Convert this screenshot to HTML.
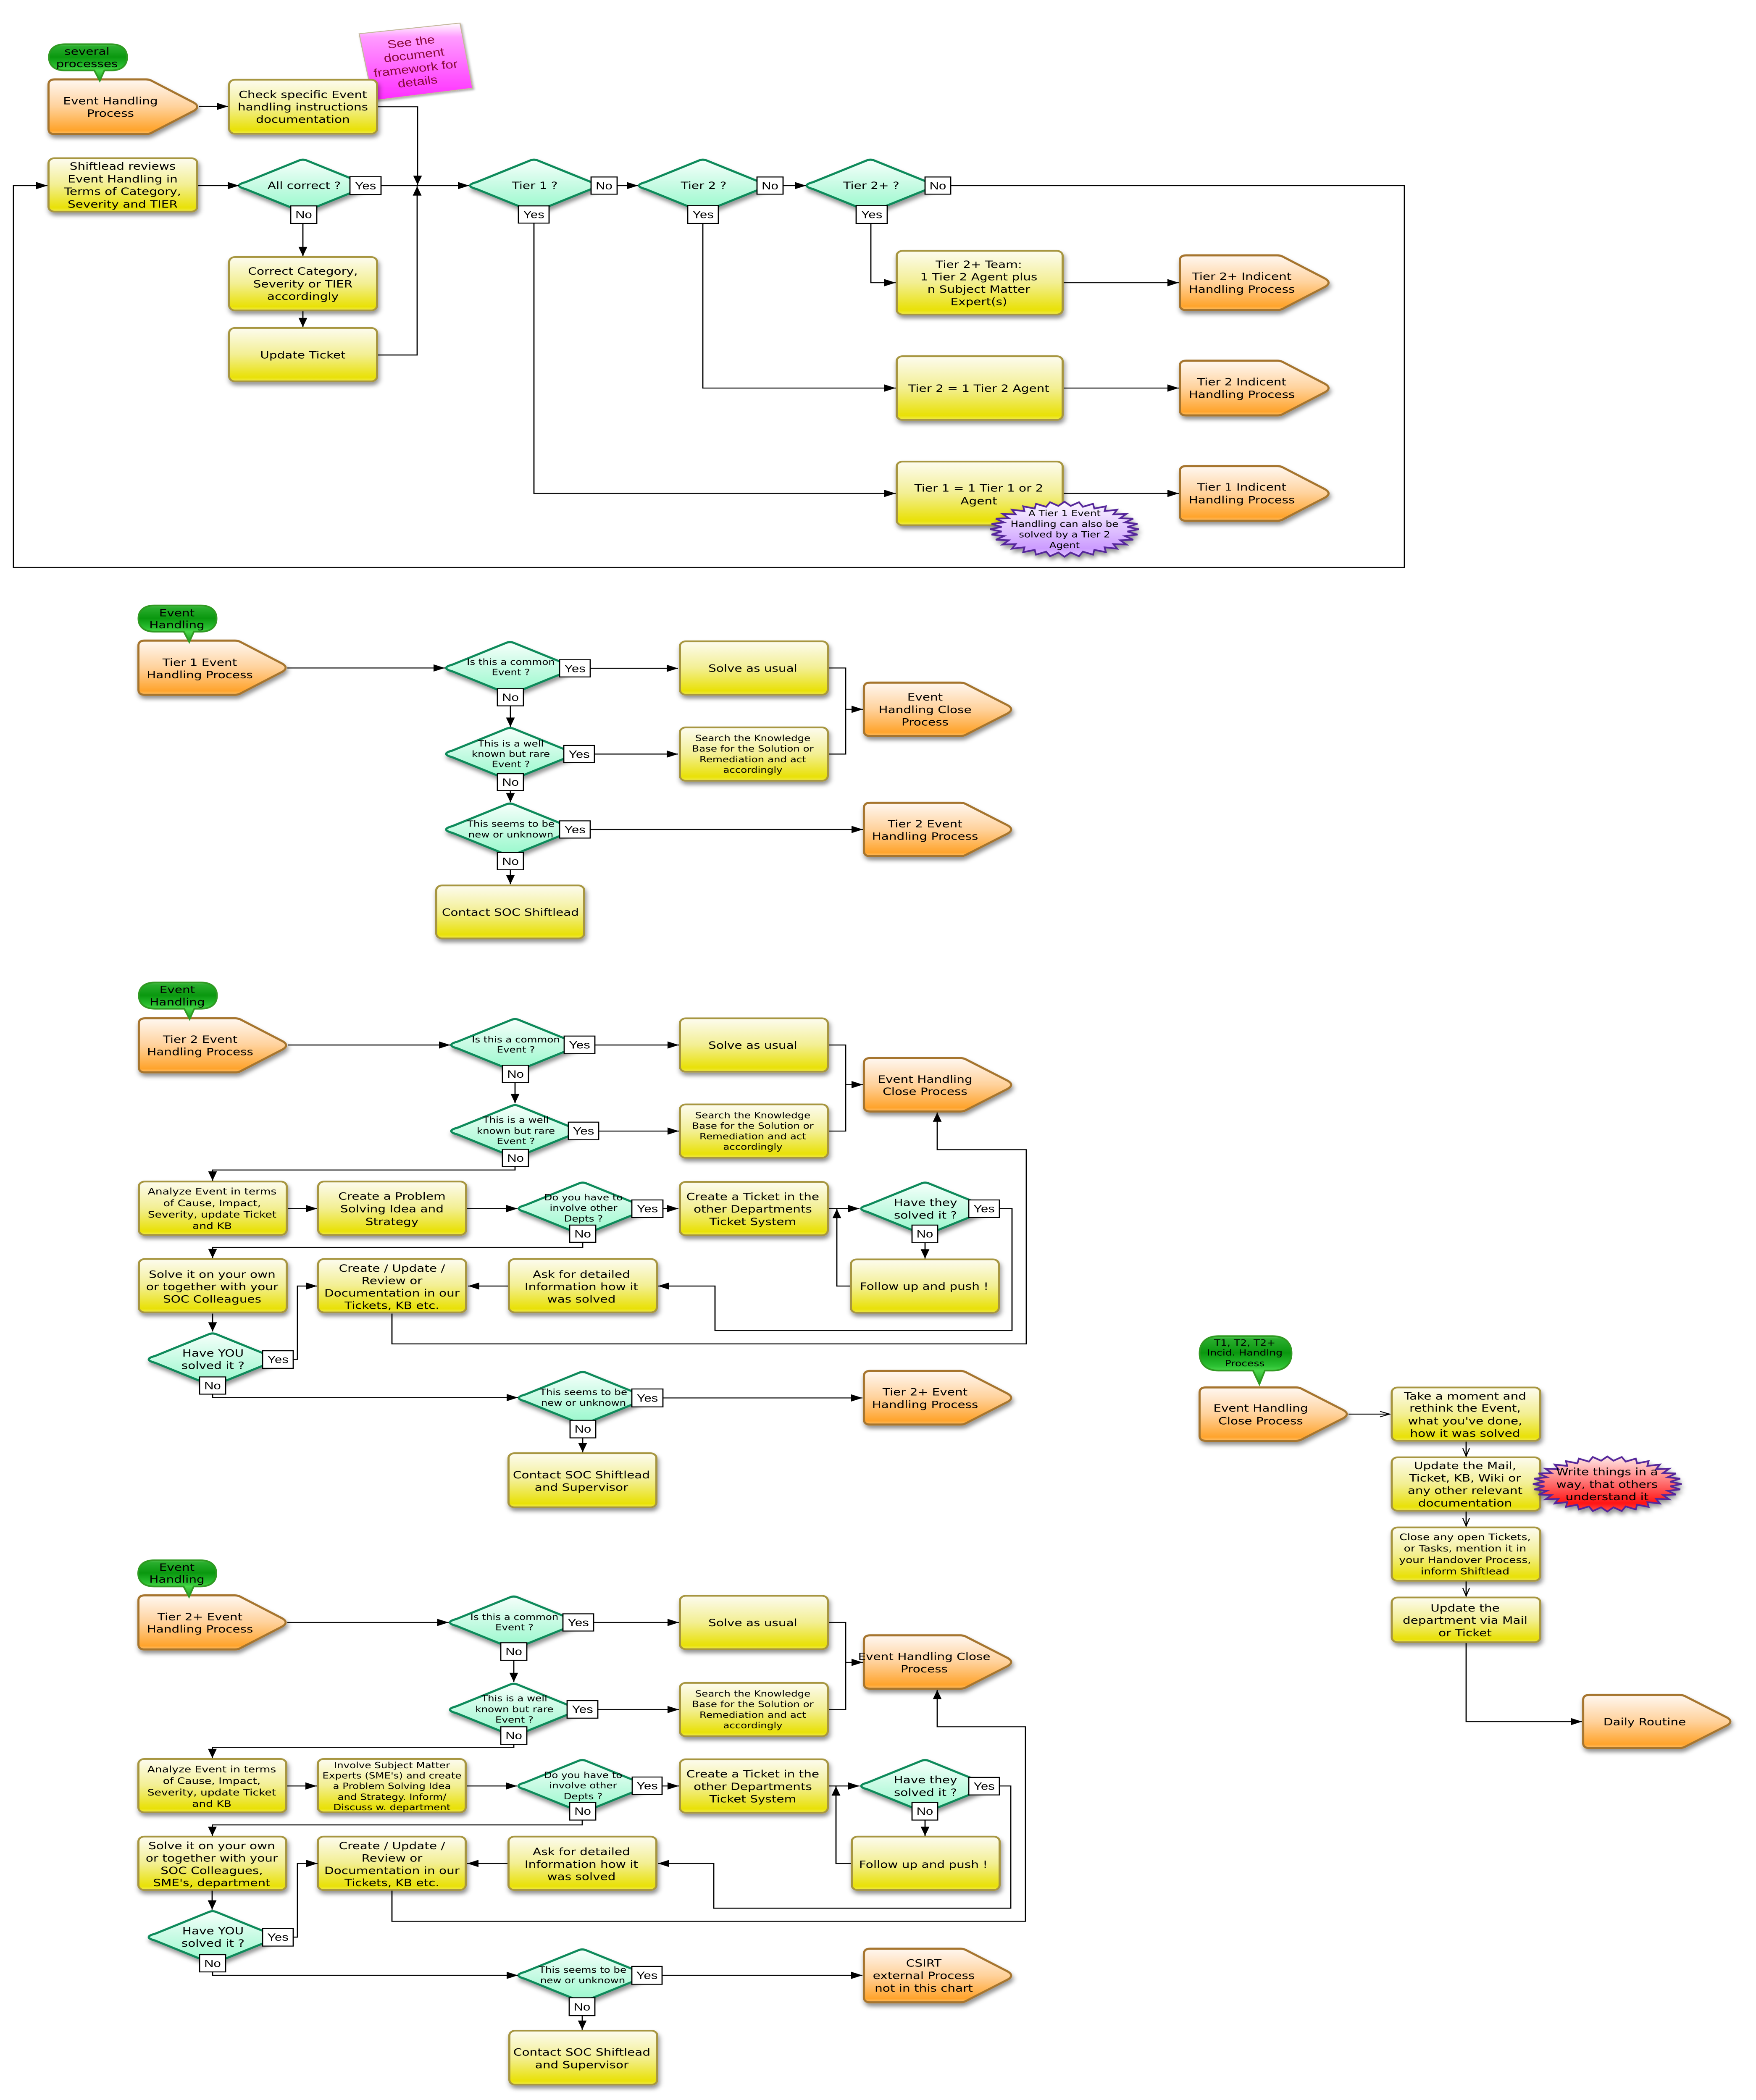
<!DOCTYPE html>
<html><head><meta charset="utf-8"><title>Event Handling Process</title>
<style>
html,body{margin:0;padding:0;background:#fff;height:100%;overflow:hidden}
svg{display:block;width:100vw;height:100vh}
text{font-family:"DejaVu Sans",sans-serif;font-size:29.5px;text-anchor:middle;fill:#000}
.s{font-size:24.5px}
.m{font-size:26.5px}
.n{font-size:25px}
.l{font-family:"Liberation Sans",sans-serif;font-size:31px}
.k{font-family:"Liberation Sans",sans-serif;font-size:33px;fill:#8a0a3a}
.y{fill:url(#gy);stroke:#a79640;stroke-width:5;rx:14px}
.o{fill:url(#go);stroke:#a6752f;stroke-width:5}
.d{fill:url(#gm);stroke:#0b8a5a;stroke-width:5}
.b{fill:url(#gb);stroke:#2f9a22;stroke-width:4}
.lb rect{fill:#fff;stroke:#000;stroke-width:2.8}
.c path{fill:none;stroke:#000;stroke-width:2.8;marker-end:url(#a)}
.c path.x{marker-end:none}
.c path.v{marker-end:url(#v)}
</style></head><body>
<svg xmlns="http://www.w3.org/2000/svg" viewBox="0 0 4180 6099" preserveAspectRatio="none">
<defs>
<linearGradient id="gy" x1="0" y1="0" x2="0" y2="1"><stop offset="0" stop-color="#fdfcf0"/><stop offset=".5" stop-color="#f3ef93"/><stop offset=".93" stop-color="#e9e106"/><stop offset="1" stop-color="#f1ec50"/></linearGradient>
<linearGradient id="go" x1="0" y1="0" x2="0" y2="1"><stop offset="0" stop-color="#fff8f2"/><stop offset=".5" stop-color="#ffd29c"/><stop offset=".93" stop-color="#ffa42c"/><stop offset="1" stop-color="#ffc068"/></linearGradient>
<linearGradient id="gm" x1="0" y1="0" x2="0" y2="1"><stop offset="0" stop-color="#f6fffb"/><stop offset=".5" stop-color="#c6fbe3"/><stop offset=".93" stop-color="#9ef9cf"/><stop offset="1" stop-color="#b8fbdd"/></linearGradient>
<linearGradient id="gb" x1="0" y1="0" x2="0" y2="1"><stop offset="0" stop-color="#59c95a"/><stop offset=".06" stop-color="#2aae2e"/><stop offset=".35" stop-color="#0a980f"/><stop offset=".62" stop-color="#2bc032"/><stop offset=".72" stop-color="#4bd84b"/><stop offset="1" stop-color="#1c9c22"/></linearGradient>
<linearGradient id="gp" x1="0" y1="0" x2="0" y2="1"><stop offset="0" stop-color="#fcf9ff"/><stop offset=".85" stop-color="#cc9cff"/><stop offset="1" stop-color="#e0c4ff"/></linearGradient>
<linearGradient id="gr" x1="0" y1="0" x2="0" y2="1"><stop offset="0" stop-color="#ffeaea"/><stop offset=".85" stop-color="#ff1212"/><stop offset="1" stop-color="#ff5050"/></linearGradient>
<linearGradient id="gk" x1="0" y1="0" x2="0" y2="1"><stop offset="0" stop-color="#fff"/><stop offset=".18" stop-color="#ff9cff"/><stop offset="1" stop-color="#ff2cff"/></linearGradient>
<filter id="sh" filterUnits="userSpaceOnUse" x="0" y="0" width="4180" height="6099"><feDropShadow dx="3" dy="9" stdDeviation="6" flood-color="#000" flood-opacity=".42"/></filter>
<filter id="sk" filterUnits="userSpaceOnUse" x="800" y="40" width="380" height="290"><feDropShadow dx="3" dy="4" stdDeviation="3" flood-color="#000" flood-opacity=".3"/></filter>
<marker id="a" markerUnits="userSpaceOnUse" markerWidth="28" markerHeight="22" refX="27" refY="10.5" orient="auto"><path d="M0 0L27 10.5L0 21Z" fill="#000"/></marker>
<marker id="v" markerUnits="userSpaceOnUse" markerWidth="28" markerHeight="22" refX="26" refY="10" orient="auto"><path d="M2 2L25 10L2 18" fill="none" stroke="#000" stroke-width="2.5"/></marker>
<path id="pent" vector-effect="non-scaling-stroke" d="M15 0H232Q240 0 247 5L345 67Q363 79.5 345 92L247 154Q240 159 232 159H15Q0 159 0 144V15Q0 0 15 0Z"/>
<path id="dia" vector-effect="non-scaling-stroke" d="M.06-.96L.9-.13Q1.1 0 .9 .13L.06 .96Q0 1.02-.06 .96L-.9 .13Q-1.1 0-.9-.13L-.06-.96Q0-1.02 .06-.96Z"/>
<path id="bub" vector-effect="non-scaling-stroke" d="M38 0H148C174 0 186 16 186 38C186 60 174 76 148 76H132L121 106L108 76H38C12 76 0 60 0 38C0 16 12 0 38 0Z"/>
<polygon id="star" vector-effect="non-scaling-stroke" points="1,0 .846,.083 .981,.195 .813,.247 .924,.383 .750,.401 .832,.556 .657,.539 .707,.707 .539,.657 .556,.832 .401,.750 .383,.924 .247,.813 .195,.981 .083,.846 0,1 -.083,.846 -.195,.981 -.247,.813 -.383,.924 -.401,.750 -.556,.832 -.539,.657 -.707,.707 -.657,.539 -.832,.556 -.750,.401 -.924,.383 -.813,.247 -.981,.195 -.846,.083 -1,0 -.846,-.083 -.981,-.195 -.813,-.247 -.924,-.383 -.750,-.401 -.832,-.556 -.657,-.539 -.707,-.707 -.539,-.657 -.556,-.832 -.401,-.750 -.383,-.924 -.247,-.813 -.195,-.981 -.083,-.846 0,-1 .083,-.846 .195,-.981 .247,-.813 .383,-.924 .401,-.750 .556,-.832 .539,-.657 .707,-.707 .657,-.539 .832,-.556 .750,-.401 .924,-.383 .813,-.247 .981,-.195 .846,-.083"/>
</defs>
<rect width="4180" height="6099" fill="#fff"/>

<polygon points="855,98 1095,67 1125,256 888,292" fill="url(#gk)" stroke="#c4b79c" stroke-width="2.5" filter="url(#sk)"/>
<text class="k" transform="translate(980 133) rotate(-8)">See the</text>
<text class="k" transform="translate(987 171) rotate(-8)">document</text>
<text class="k" transform="translate(991 210) rotate(-8)">framework for</text>
<text class="k" transform="translate(995.5 248) rotate(-8)">details</text>

<g filter="url(#sh)">
<!-- S1 -->
<use href="#pent" class="o" transform="translate(115.5 230.5)"/>
<rect class="y" x="545.5" y="231.5" width="352" height="157"/>
<rect class="y" x="115.5" y="459.5" width="354" height="155"/>
<rect class="y" x="545.5" y="746.5" width="352" height="155"/>
<rect class="y" x="545.5" y="952.5" width="352" height="155"/>
<rect class="y" x="2134.5" y="728.5" width="395" height="185"/>
<rect class="y" x="2134.5" y="1034.5" width="395" height="185"/>
<rect class="y" x="2134.5" y="1340.5" width="395" height="185"/>
<use href="#pent" class="o" transform="translate(2808.5 741.5)"/>
<use href="#pent" class="o" transform="translate(2808.5 1047.5)"/>
<use href="#pent" class="o" transform="translate(2808.5 1353.5)"/>
<use href="#dia" class="d" transform="translate(721 539) scale(152 76)"/>
<use href="#dia" class="d" transform="translate(1271 539) scale(152 76)"/>
<use href="#dia" class="d" transform="translate(1673 539) scale(152 76)"/>
<use href="#dia" class="d" transform="translate(2072 539) scale(152 76)"/>
<!-- S2 -->
<use href="#pent" class="o" transform="translate(329.5 1860.5) scale(.99 .99)"/>
<use href="#dia" class="d" transform="translate(1214 1940) scale(152 76)"/>
<use href="#dia" class="d" transform="translate(1214 2189.5) scale(152 76)"/>
<use href="#dia" class="d" transform="translate(1214 2409) scale(152 76)"/>
<rect class="y" x="1618.5" y="1862.5" width="352" height="155"/>
<rect class="y" x="1618.5" y="2112.5" width="352" height="155"/>
<rect class="y" x="1038.5" y="2571.5" width="352" height="154"/>
<use href="#pent" class="o" transform="translate(2056.5 1982.5) scale(.99 .975)"/>
<use href="#pent" class="o" transform="translate(2056.5 2331.5) scale(.99 .975)"/>
<!-- S3 -->
<use href="#pent" class="o" transform="translate(330.5 2957.5) scale(.99 .987)"/>
<use href="#dia" class="d" transform="translate(1226 3035) scale(152 76)"/>
<use href="#dia" class="d" transform="translate(1226 3285) scale(152 76)"/>
<rect class="y" x="1618.5" y="2957.5" width="352" height="155"/>
<rect class="y" x="1618.5" y="3207.5" width="352" height="155"/>
<use href="#pent" class="o" transform="translate(2056.5 3073) scale(.99 .975)"/>
<rect class="y" x="330.5" y="3431.5" width="352" height="155"/>
<rect class="y" x="757.5" y="3431.5" width="352" height="155"/>
<use href="#dia" class="d" transform="translate(1387 3510) scale(152 76)"/>
<rect class="y" x="1618.5" y="3432.5" width="352" height="155"/>
<use href="#dia" class="d" transform="translate(2202 3510) scale(152 76)"/>
<rect class="y" x="330.5" y="3656.5" width="352" height="155"/>
<rect class="y" x="757.5" y="3656.5" width="352" height="155"/>
<rect class="y" x="1211.5" y="3656.5" width="352" height="155"/>
<rect class="y" x="2025.5" y="3657.5" width="352" height="155"/>
<use href="#dia" class="d" transform="translate(506 3948) scale(152 76)"/>
<use href="#dia" class="d" transform="translate(1387 4060) scale(152 76)"/>
<use href="#pent" class="o" transform="translate(2056.5 3981.5) scale(.99 .98)"/>
<rect class="y" x="1210.5" y="4220.5" width="352" height="157"/>
<!-- S4 -->
<use href="#pent" class="o" transform="translate(329.5 4633.5) scale(.99 .987)"/>
<use href="#dia" class="d" transform="translate(1223 4712) scale(152 76)"/>
<use href="#dia" class="d" transform="translate(1223 4965.5) scale(152 76)"/>
<rect class="y" x="1618.5" y="4634.5" width="352" height="155"/>
<rect class="y" x="1618.5" y="4887.5" width="352" height="155"/>
<use href="#pent" class="o" transform="translate(2056.5 4749.5) scale(.99 .975)"/>
<rect class="y" x="329.5" y="5108.5" width="352" height="155"/>
<rect class="y" x="756.5" y="5108.5" width="352" height="155"/>
<use href="#dia" class="d" transform="translate(1386 5187) scale(152 76)"/>
<rect class="y" x="1618.5" y="5109.5" width="352" height="155"/>
<use href="#dia" class="d" transform="translate(2202 5187) scale(152 76)"/>
<rect class="y" x="329.5" y="5334" width="352" height="155"/>
<rect class="y" x="756.5" y="5334" width="352" height="155"/>
<rect class="y" x="1210.5" y="5334" width="352" height="155"/>
<rect class="y" x="2027.5" y="5334" width="352" height="155"/>
<use href="#dia" class="d" transform="translate(506 5626) scale(152 76)"/>
<use href="#dia" class="d" transform="translate(1386 5737) scale(152 76)"/>
<use href="#pent" class="o" transform="translate(2056.5 5659.5) scale(.99 .98)"/>
<rect class="y" x="1212.5" y="5897.5" width="352" height="157"/>
<!-- Right -->
<use href="#pent" class="o" transform="translate(2855.5 4029.5) scale(.99 .975)"/>
<rect class="y" x="3313" y="4029.5" width="353.5" height="155"/>
<rect class="y" x="3313" y="4232.5" width="353.5" height="155"/>
<rect class="y" x="3313" y="4436" width="353.5" height="155"/>
<rect class="y" x="3313" y="4639.5" width="353.5" height="130"/>
<use href="#pent" class="o" transform="translate(3768.5 4922.5) scale(.99 .97)"/>
</g>

<g class="c">
<!-- S1 -->
<path d="M473 309H543"/><path d="M900 310H994V537"/><path d="M900 1031H993V541"/><path d="M907 539H1117"/><path d="M472 539H569"/>
<path d="M721 649V744"/><path d="M721 904V950"/><path d="M1271 648V1433H2132"/><path d="M1469 539H1519"/><path d="M1673 649V1127H2132"/>
<path d="M1864 539H1919"/><path d="M2073 649V821H2132"/><path d="M2263 539H3343V1648H32V539H113"/><path d="M2532 821H2806"/><path d="M2532 1127H2806"/><path d="M2532 1433H2806"/>
<!-- S2 -->
<path d="M684 1940H1059"/><path d="M1405 1941H1614"/><path d="M1215 2050V2111"/><path d="M1415 2190H1614"/><path d="M1215 2296V2330"/><path d="M1405 2409H2054"/><path d="M1215 2526V2568"/>
<path class="x" d="M1973 1940H2013V2190H1973"/><path d="M2013 2060H2054"/>
<!-- S3 -->
<path d="M685 3035H1072"/><path d="M1416 3035H1616"/><path d="M1226 3144V3204"/><path d="M1425 3285H1616"/><path d="M1226 3388V3398H506V3429"/>
<path class="x" d="M1973 3035H2013V3285H1973"/><path d="M2013 3150H2054"/><path d="M685 3510H755"/><path d="M1112 3510H1232"/><path d="M1578 3510H1615"/><path d="M1973 3510H2046"/>
<path d="M2202 3609V3655"/><path d="M2023 3735H1992V3511"/><path d="M2379 3510H2409V3864H1702V3735H1566"/><path d="M933 3815V3903H2443V3339H2231V3231"/><path d="M1387 3608V3623H506V3654"/>
<path d="M1209 3735H1114"/><path d="M506 3815V3867"/><path d="M698 3948H708V3735H755"/><path d="M506 4049V4059H1233"/><path d="M1578 4060H2053"/><path d="M1387 4176V4218"/>
<!-- S4 -->
<path d="M684 4712H1068"/><path d="M1413 4712H1616"/><path d="M1223 4822V4885"/><path d="M1423 4965H1616"/><path d="M1223 5066V5075H505.5V5106"/>
<path class="x" d="M1973 4712H2013V4965H1973"/><path d="M2013 4828H2054"/><path d="M684 5187H754"/><path d="M1112 5187H1231"/><path d="M1576 5187H1616"/><path d="M1973 5187H2046"/>
<path d="M2202 5286V5332"/><path d="M2025 5412H1990V5188"/><path d="M2379 5187H2406V5542H1699V5412H1566"/><path d="M933 5491V5580H2441V5015H2231V4908"/><path d="M1386 5286V5300H505.5V5332"/>
<path d="M1208 5412H1112"/><path d="M505 5491V5546"/><path d="M698 5626H708V5412H756"/><path d="M506 5727V5737H1233"/><path d="M1576 5737H2053"/><path d="M1386 5854V5895"/>
<!-- Right -->
<path class="v" d="M3210 4107H3309"/><path class="v" d="M3490 4187V4230"/><path class="v" d="M3490 4390V4433"/><path class="v" d="M3490 4593V4636"/><path d="M3490 4772V5000H3766"/>
</g>

<use href="#bub" class="b" transform="translate(116.5 128.5)"/>
<use href="#bub" class="b" transform="translate(329.5 1758.5)"/>
<use href="#bub" class="b" transform="translate(330.5 2853.5)"/>
<use href="#bub" class="b" transform="translate(329 4531.5)"/>
<use href="#bub" class="b" transform="translate(2855.5 3880.5) scale(1.177 1.316)"/>

<g filter="url(#sh)">
<use href="#star" fill="url(#gp)" stroke="#55289a" stroke-width="4" transform="translate(2534 1537) scale(177 80)"/>
<use href="#star" fill="url(#gr)" stroke="#55289a" stroke-width="4" transform="translate(3826 4310) scale(177 80)"/>
</g>

<g class="lb">
<rect x="833" y="513" width="74" height="52"/><rect x="692" y="598" width="62" height="51"/>
<rect x="1234" y="598" width="73" height="50"/><rect x="1407" y="514" width="62" height="50"/>
<rect x="1637" y="597" width="73" height="52"/><rect x="1802" y="514" width="62" height="50"/>
<rect x="2038" y="597" width="74" height="52"/><rect x="2202" y="514" width="61" height="50"/>
<rect x="1332" y="1916" width="73" height="50"/><rect x="1184" y="2000" width="62" height="50"/>
<rect x="1342" y="2165" width="73" height="50"/><rect x="1184" y="2247" width="62" height="49"/>
<rect x="1332" y="2384" width="73" height="50"/><rect x="1184" y="2476" width="62" height="50"/>
<rect x="1343" y="3009" width="73" height="51"/><rect x="1196" y="3094" width="62" height="50"/>
<rect x="1353" y="3259" width="72" height="51"/><rect x="1196" y="3338" width="62" height="50"/>
<rect x="1504" y="3485" width="74" height="51"/><rect x="1356" y="3558" width="62" height="50"/>
<rect x="2306" y="3485" width="73" height="51"/><rect x="2171" y="3558" width="61" height="51"/>
<rect x="625" y="3923" width="73" height="51"/><rect x="475" y="3999" width="62" height="50"/>
<rect x="1504" y="4034" width="74" height="52"/><rect x="1357" y="4125" width="61" height="51"/>
<rect x="1340" y="4687" width="73" height="50"/><rect x="1192" y="4771" width="62" height="51"/>
<rect x="1350" y="4939" width="73" height="51"/><rect x="1192" y="5015" width="62" height="51"/>
<rect x="1505" y="5161" width="71" height="51"/><rect x="1356" y="5235" width="62" height="51"/>
<rect x="2306" y="5162" width="73" height="51"/><rect x="2171" y="5235" width="61" height="51"/>
<rect x="625" y="5601" width="73" height="51"/><rect x="475" y="5677" width="62" height="50"/>
<rect x="1504" y="5711" width="72" height="52"/><rect x="1355" y="5802" width="61" height="52"/>
</g>
<g>
<text class="l" x="870" y="550">Yes</text><text class="l" x="723" y="634">No</text>
<text class="l" x="1270.5" y="634">Yes</text><text class="l" x="1438" y="550">No</text>
<text class="l" x="1673.5" y="634">Yes</text><text class="l" x="1833" y="550">No</text>
<text class="l" x="2075" y="634">Yes</text><text class="l" x="2232.5" y="550">No</text>
<text class="l" x="1368.5" y="1952">Yes</text><text class="l" x="1215" y="2036">No</text>
<text class="l" x="1378.5" y="2201">Yes</text><text class="l" x="1215" y="2282">No</text>
<text class="l" x="1368.5" y="2420">Yes</text><text class="l" x="1215" y="2512">No</text>
<text class="l" x="1379.5" y="3045">Yes</text><text class="l" x="1227" y="3130">No</text>
<text class="l" x="1389" y="3295">Yes</text><text class="l" x="1227" y="3374">No</text>
<text class="l" x="1541" y="3521">Yes</text><text class="l" x="1387" y="3594">No</text>
<text class="l" x="2342.5" y="3521">Yes</text><text class="l" x="2201.5" y="3594">No</text>
<text class="l" x="661.5" y="3959">Yes</text><text class="l" x="506" y="4035">No</text>
<text class="l" x="1541" y="4071">Yes</text><text class="l" x="1387.5" y="4161">No</text>
<text class="l" x="1376.5" y="4723">Yes</text><text class="l" x="1223" y="4807">No</text>
<text class="l" x="1386.5" y="4975">Yes</text><text class="l" x="1223" y="5051">No</text>
<text class="l" x="1540.5" y="5197">Yes</text><text class="l" x="1387" y="5271">No</text>
<text class="l" x="2342.5" y="5198">Yes</text><text class="l" x="2201.5" y="5271">No</text>
<text class="l" x="661.5" y="5637">Yes</text><text class="l" x="506" y="5713">No</text>
<text class="l" x="1540" y="5748">Yes</text><text class="l" x="1385.5" y="5839">No</text>
</g>

<!-- S1 text -->
<text x="207" y="159">several</text><text x="207" y="195">processes</text>
<text x="263" y="303">Event Handling</text><text x="263" y="339">Process</text>
<text x="721" y="285">Check specific Event</text><text x="721" y="321">handling instructions</text><text x="721" y="357">documentation</text>
<text x="292" y="493">Shiftlead reviews</text><text x="292" y="530">Event Handling in</text><text x="292" y="566">Terms of Category,</text><text x="292" y="603">Severity and TIER</text>
<text x="724" y="549">All correct ?</text><text x="1273" y="549">Tier 1 ?</text><text x="1675" y="549">Tier 2 ?</text><text x="2074" y="549">Tier 2+ ?</text>
<text x="721" y="798">Correct Category,</text><text x="721" y="835">Severity or TIER</text><text x="721" y="871">accordingly</text>
<text x="721" y="1041">Update Ticket</text>
<text x="2330" y="778">Tier 2+ Team:</text><text x="2330" y="814">1 Tier 2 Agent plus</text><text x="2330" y="850">n Subject Matter</text><text x="2330" y="886">Expert(s)</text>
<text x="2330" y="1138">Tier 2 = 1 Tier 2 Agent</text>
<text x="2330" y="1428">Tier 1 = 1 Tier 1 or 2</text><text x="2330" y="1465">Agent</text>
<text x="2956" y="813">Tier 2+ Indicent</text><text x="2956" y="850">Handling Process</text>
<text x="2956" y="1119">Tier 2 Indicent</text><text x="2956" y="1156">Handling Process</text>
<text x="2956" y="1425">Tier 1 Indicent</text><text x="2956" y="1462">Handling Process</text>
<text class="s" x="2534" y="1499">A Tier 1 Event</text><text class="s" x="2534" y="1530">Handling can also be</text><text class="s" x="2534" y="1561">solved by a Tier 2</text><text class="s" x="2534" y="1592">Agent</text>

<!-- S2 text -->
<text x="421" y="1790">Event</text><text x="421" y="1825">Handling</text>
<text x="475.5" y="1934">Tier 1 Event</text><text x="475.5" y="1970">Handling Process</text>
<text class="s" x="1216" y="1931">Is this a common</text><text class="s" x="1216" y="1961">Event ?</text>
<text class="s" x="1216" y="2168">This is a well</text><text class="s" x="1216" y="2198">known but rare</text><text class="s" x="1216" y="2228">Event ?</text>
<text class="s" x="1216" y="2401">This seems to be</text><text class="s" x="1216" y="2432">new or unknown</text>
<text x="1215" y="2660">Contact SOC Shiftlead</text>
<text x="1792" y="1951">Solve as usual</text>
<text class="s" x="1792" y="2152.5">Search the Knowledge</text><text class="s" x="1792" y="2183">Base for the Solution or</text><text class="s" x="1792" y="2214">Remediation and act</text><text class="s" x="1792" y="2244.5">accordingly</text>
<text x="2202" y="2034.5">Event</text><text x="2202" y="2071">Handling Close</text><text x="2202" y="2107">Process</text>
<text x="2202" y="2403">Tier 2 Event</text><text x="2202" y="2439">Handling Process</text>

<!-- S3 text -->
<text x="422" y="2884">Event</text><text x="422" y="2920">Handling</text>
<text x="476.5" y="3029">Tier 2 Event</text><text x="476.5" y="3065">Handling Process</text>
<text class="s" x="1228" y="3027.5">Is this a common</text><text class="s" x="1228" y="3057">Event ?</text>
<text class="s" x="1228" y="3261">This is a well</text><text class="s" x="1228" y="3293">known but rare</text><text class="s" x="1228" y="3323">Event ?</text>
<text x="1792" y="3046">Solve as usual</text>
<text class="s" x="1792" y="3247.5">Search the Knowledge</text><text class="s" x="1792" y="3278">Base for the Solution or</text><text class="s" x="1792" y="3309">Remediation and act</text><text class="s" x="1792" y="3339.5">accordingly</text>
<text x="2202" y="3144.5">Event Handling</text><text x="2202" y="3180">Close Process</text>
<text class="m" x="505" y="3469">Analyze Event in terms</text><text class="m" x="505" y="3503">of Cause, Impact,</text><text class="m" x="505" y="3536">Severity, update Ticket</text><text class="m" x="505" y="3569">and KB</text>
<text x="933" y="3484.5">Create a Problem</text><text x="933" y="3521">Solving Idea and</text><text x="933" y="3558">Strategy</text>
<text class="s" x="1389" y="3486">Do you have to</text><text class="s" x="1389" y="3517">involve other</text><text class="s" x="1389" y="3548">Depts ?</text>
<text x="1792" y="3485.5">Create a Ticket in the</text><text x="1792" y="3521.5">other Departments</text><text x="1792" y="3558">Ticket System</text>
<text x="2203" y="3502.5">Have they</text><text x="2203" y="3539">solved it ?</text>
<text x="505" y="3711">Solve it on your own</text><text x="505" y="3747">or together with your</text><text x="505" y="3783">SOC Colleagues</text>
<text x="933" y="3693.5">Create / Update /</text><text x="933" y="3729.5">Review or</text><text x="933" y="3765.5">Documentation in our</text><text x="933" y="3801.5">Tickets, KB etc.</text>
<text x="1384" y="3711">Ask for detailed</text><text x="1384" y="3747">Information how it</text><text x="1384" y="3783">was solved</text>
<text x="2200" y="3746">Follow up and push !</text>
<text x="507" y="3940">Have YOU</text><text x="507" y="3976">solved it ?</text>
<text class="s" x="1389" y="4051.5">This seems to be</text><text class="s" x="1389" y="4082.5">new or unknown</text>
<text x="2202" y="4052.5">Tier 2+ Event</text><text x="2202" y="4089.5">Handling Process</text>
<text x="1384" y="4293.5">Contact SOC Shiftlead</text><text x="1384" y="4329.5">and Supervisor</text>

<!-- S4 text -->
<text x="421" y="4562">Event</text><text x="421" y="4597">Handling</text>
<text x="476" y="4706">Tier 2+ Event</text><text x="476" y="4741.5">Handling Process</text>
<text class="s" x="1224.5" y="4704.5">Is this a common</text><text class="s" x="1224.5" y="4734.5">Event ?</text>
<text class="s" x="1224.5" y="4940.5">This is a well</text><text class="s" x="1224.5" y="4972.5">known but rare</text><text class="s" x="1224.5" y="5003">Event ?</text>
<text x="1792" y="4723">Solve as usual</text>
<text class="s" x="1792" y="4927.5">Search the Knowledge</text><text class="s" x="1792" y="4958">Base for the Solution or</text><text class="s" x="1792" y="4989">Remediation and act</text><text class="s" x="1792" y="5019.5">accordingly</text>
<text x="2200" y="4821">Event Handling Close</text><text x="2200" y="4857">Process</text>
<text class="m" x="504" y="5147.5">Analyze Event in terms</text><text class="m" x="504" y="5181">of Cause, Impact,</text><text class="m" x="504" y="5214.5">Severity, update Ticket</text><text class="m" x="504" y="5247.5">and KB</text>
<text class="s" x="933" y="5135.5">Involve Subject Matter</text><text class="s" x="933" y="5165.5">Experts (SME's)  and create</text><text class="s" x="933" y="5196">a Problem Solving Idea</text><text class="s" x="933" y="5227.5">and Strategy. Inform/</text><text class="s" x="933" y="5257.5">Discuss w. department</text>
<text class="s" x="1388" y="5164">Do you have to</text><text class="s" x="1388" y="5194">involve other</text><text class="s" x="1388" y="5225.5">Depts ?</text>
<text x="1792" y="5162.5">Create a Ticket in the</text><text x="1792" y="5198.5">other Departments</text><text x="1792" y="5235">Ticket System</text>
<text x="2203" y="5179.5">Have they</text><text x="2203" y="5216">solved it ?</text>
<text x="504" y="5370.5">Solve it on your own</text><text x="504" y="5406.5">or together with your</text><text x="504" y="5442.5">SOC Colleagues,</text><text x="504" y="5478">SME's, department</text>
<text x="933" y="5370.5">Create / Update /</text><text x="933" y="5406.5">Review or</text><text x="933" y="5442.5">Documentation in our</text><text x="933" y="5478">Tickets, KB etc.</text>
<text x="1384" y="5388">Ask for detailed</text><text x="1384" y="5424.5">Information how it</text><text x="1384" y="5460.5">was solved</text>
<text x="2198" y="5425">Follow up and push !</text>
<text x="507" y="5618">Have YOU</text><text x="507" y="5654">solved it ?</text>
<text class="s" x="1387" y="5729.5">This seems to be</text><text class="s" x="1387" y="5760">new or unknown</text>
<text x="2199" y="5711.5">CSIRT</text><text x="2199" y="5747.5">external Process</text><text x="2199" y="5784">not in this chart</text>
<text x="1385" y="5970.5">Contact SOC Shiftlead</text><text x="1385" y="6007">and Supervisor</text>

<!-- Right text -->
<text class="n" x="2963" y="3908">T1, T2, T2+</text><text class="n" x="2963" y="3937">Incid. Handlng</text><text class="n" x="2963" y="3968">Process</text>
<text x="3001" y="4100">Event Handling</text><text x="3001" y="4137">Close Process</text>
<text x="3487.5" y="4065">Take a moment and</text><text x="3487.5" y="4100">rethink the Event,</text><text x="3487.5" y="4137">what you've done,</text><text x="3487.5" y="4173">how it was solved</text>
<text x="3487.5" y="4267">Update the Mail,</text><text x="3487.5" y="4303">Ticket, KB, Wiki or</text><text x="3487.5" y="4339">any other relevant</text><text x="3487.5" y="4375.5">documentation</text>
<text class="m" x="3487.5" y="4473">Close any open Tickets,</text><text class="m" x="3487.5" y="4506">or Tasks, mention it in</text><text class="m" x="3487.5" y="4539.5">your Handover Process,</text><text class="m" x="3487.5" y="4572.5">inform Shiftlead</text>
<text x="3487.5" y="4680.5">Update the</text><text x="3487.5" y="4716">department via Mail</text><text x="3487.5" y="4752.5">or Ticket</text>
<text x="3825.5" y="4284.5">Write things in a</text><text x="3825.5" y="4321">way, that others</text><text x="3825.5" y="4357">understand it</text>
<text x="3915" y="5011">Daily Routine</text>
</svg>
</body></html>
